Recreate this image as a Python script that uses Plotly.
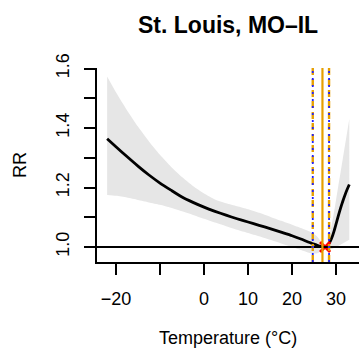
import plotly.graph_objects as go

# Exposure-response curve (relative risk by daily mean temperature)
temp = [-22, -20, -17.5, -15, -12.5, -10, -7.5, -5, -2.5, 0, 2.5, 5, 7.5, 10,
        12.5, 15, 17.5, 20, 22, 24, 25.5, 26.5, 27.5, 28, 28.5, 29, 29.5, 30,
        30.5, 31, 31.5, 32, 32.5, 33]
rr = [1.364, 1.337, 1.304, 1.272, 1.242, 1.215, 1.191, 1.168, 1.150, 1.134,
      1.120, 1.107, 1.095, 1.084, 1.073, 1.062, 1.050, 1.038, 1.027, 1.015,
      1.007, 1.002, 1.000, 1.004, 1.014, 1.030, 1.052, 1.078, 1.105, 1.130,
      1.153, 1.174, 1.193, 1.210]
rr_low = [1.175, 1.172, 1.166, 1.158, 1.150, 1.142, 1.132, 1.120, 1.108, 1.095,
          1.082, 1.070, 1.058, 1.047, 1.036, 1.024, 1.012, 1.000, 0.990, 0.980,
          0.978, 0.985, 1.000, 0.995, 0.992, 0.993, 0.997, 1.000, 1.004, 1.008,
          1.012, 1.016, 1.020, 1.024]
rr_high = [1.573, 1.520, 1.460, 1.405, 1.355, 1.310, 1.270, 1.235, 1.205, 1.180,
           1.160, 1.147, 1.137, 1.127, 1.115, 1.102, 1.088, 1.075, 1.064, 1.052,
           1.038, 1.020, 1.000, 1.015, 1.040, 1.075, 1.115, 1.160, 1.205, 1.250,
           1.295, 1.340, 1.385, 1.430]

mmt = 27.5                 # minimum-mortality temperature
ref_solid = 26.9           # reference temperature (solid line)
ref_dashed = [24.7, 28.4]  # bounds (dashed lines)

x_ticks = [-20, -10, 0, 10, 20, 30]
x_ticktext = ["\u221220", "", "0", "10", "20", "30"]
y_ticks = [1.0, 1.1, 1.2, 1.3, 1.4, 1.5, 1.6]
y_ticktext = ["1.0", "", "1.2", "", "1.4", "", "1.6"]

FONT = "Liberation Sans, Arial, sans-serif"
ORANGE = "#E69F00"
LBL = 18

fig = go.Figure()

# confidence band
fig.add_trace(go.Scatter(x=temp, y=rr_low, mode="lines",
                         line=dict(width=0, shape="spline", smoothing=0.6),
                         hoverinfo="skip", showlegend=False))
fig.add_trace(go.Scatter(x=temp, y=rr_high, mode="lines",
                         line=dict(width=0, shape="spline", smoothing=0.6),
                         fill="tonexty", fillcolor="#e6e6e6",
                         hoverinfo="skip", showlegend=False))

# reference line at RR = 1
fig.add_shape(type="line", xref="paper", x0=0, x1=1, yref="y", y0=1, y1=1,
              line=dict(color="black", width=1.8), layer="above")

# vertical reference lines
fig.add_shape(type="line", xref="x", x0=ref_solid, x1=ref_solid,
              yref="paper", y0=0, y1=1, line=dict(color=ORANGE, width=2.2))
for xv in ref_dashed:
    fig.add_shape(type="line", xref="x", x0=xv, x1=xv, yref="paper", y0=0, y1=1,
                  line=dict(color=ORANGE, width=2.4, dash="7px,4px"))
    fig.add_shape(type="line", xref="x", x0=xv, x1=xv, yref="paper", y0=0, y1=1,
                  line=dict(color="#2020ff", width=1.8, dash="2px,5px"))

# estimated curve
fig.add_trace(go.Scatter(x=temp, y=rr, mode="lines",
                         line=dict(color="black", width=2.8, shape="spline",
                                   smoothing=0.6),
                         hoverinfo="skip", showlegend=False))

# minimum point
fig.add_trace(go.Scatter(x=[mmt], y=[1.0], mode="markers",
                         marker=dict(symbol="x-thin", size=10, color="red",
                                     line=dict(color="red", width=3)),
                         hoverinfo="skip", showlegend=False))

fig.update_layout(
    width=360, height=356,
    margin=dict(l=97, r=1, t=68, b=94),
    plot_bgcolor="white", paper_bgcolor="white",
    font=dict(family=FONT, size=LBL, color="black"),
    showlegend=False,
    xaxis=dict(range=[-24.3, 35.2], tickvals=x_ticks, ticktext=x_ticktext,
               ticks="outside", ticklen=11, tickwidth=1.8, tickcolor="black",
               showline=True, linecolor="black", linewidth=1.8, mirror=False,
               showgrid=False, zeroline=False, ticklabelstandoff=8,
               tickfont=dict(family=FONT, size=LBL)),
    yaxis=dict(range=[0.9496, 1.6017], tickvals=y_ticks, ticktext=y_ticktext,
               ticks="outside", ticklen=11, tickwidth=1.8, tickcolor="black",
               showline=True, linecolor="black", linewidth=1.8, mirror=False,
               showgrid=False, zeroline=False, tickangle=-90,
               ticklabelstandoff=8, tickfont=dict(family=FONT, size=LBL)),
    annotations=[
        dict(text="<b>St. Louis, MO\u2013IL</b>", x=0.5, xref="paper",
             xanchor="center", y=1, yref="paper", yanchor="middle", yshift=43,
             showarrow=False, font=dict(family=FONT, size=23)),
        dict(text="Temperature (\u00b0C)", x=0.5, xref="paper",
             xanchor="center", y=0, yref="paper", yanchor="middle",
             yshift=-76, showarrow=False, font=dict(family=FONT, size=LBL)),
        dict(text="RR", x=0, xref="paper", xanchor="center", xshift=-77,
             y=0.5, yref="paper", yanchor="middle", textangle=-90,
             showarrow=False, font=dict(family=FONT, size=LBL)),
    ],
)

fig.write_html("out.html")
